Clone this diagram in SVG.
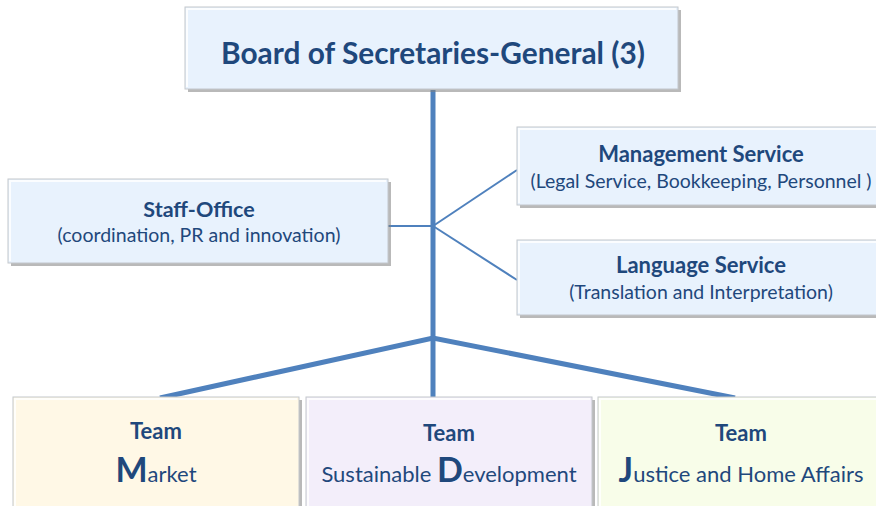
<svg xmlns="http://www.w3.org/2000/svg" width="876" height="506" viewBox="0 0 876 506">
<defs>
<style>
.box{stroke:#c3c7cc;stroke-width:1}
.sh{fill:#7f7f7f;opacity:0.55}
.hl{fill:none;stroke:#ffffff;stroke-width:2;opacity:0.8}
.t{font-family:Lato,"Open Sans","Liberation Sans",sans-serif;fill:#1f487c;text-anchor:middle}
.b{font-weight:bold}
.thick{stroke:#4f81bd;stroke-width:5;fill:none}
.thin{stroke:#4f81bd;stroke-width:2;fill:none}
</style>
</defs>
<rect width="876" height="506" fill="#ffffff"/>
<g id="connectors">
<line class="thick" x1="433" y1="90" x2="433" y2="398"/>
<line class="thin" x1="388" y1="226" x2="433" y2="226"/>
<line class="thin" x1="433" y1="226" x2="517" y2="170"/>
<line class="thin" x1="433" y1="226" x2="517" y2="280"/>
<polyline class="thick" points="160,398 433,338 735,398"/>
</g>
<g id="board">
<rect class="sh" x="188" y="10" width="493" height="82"/>
<rect class="box" x="185" y="7" width="493" height="82" fill="#e8f2fd"/>
<polyline class="hl" points="187,87 187,9 676,9"/>
<text class="t b" x="433" y="64" font-size="30" textLength="424" lengthAdjust="spacingAndGlyphs">Board of Secretaries-General (3)</text>
</g>
<g id="staff">
<rect class="sh" x="11" y="182" width="380" height="84"/>
<rect class="box" x="8" y="179" width="380" height="84" fill="#e8f2fd"/>
<polyline class="hl" points="10,261 10,181 386,181"/>
<text class="t b" x="199" y="217" font-size="21.5">Staff-Office</text>
<text class="t" x="199" y="242" font-size="19.5">(coordination, PR and innovation)</text>
</g>
<g id="management">
<rect class="sh" x="520" y="130" width="360" height="78"/>
<rect class="box" x="517" y="127" width="362" height="78" fill="#e8f2fd"/>
<polyline class="hl" points="519,203 519,129 877,129"/>
<text class="t b" x="701" y="162" font-size="22">Management Service</text>
<text class="t" x="701" y="188" font-size="19.5">(Legal Service, Bookkeeping, Personnel )</text>
</g>
<g id="language">
<rect class="sh" x="520" y="243" width="360" height="75"/>
<rect class="box" x="517" y="240" width="362" height="75" fill="#e8f2fd"/>
<polyline class="hl" points="519,313 519,242 877,242"/>
<text class="t b" x="701" y="273" font-size="22">Language Service</text>
<text class="t" x="701" y="299" font-size="19.5">(Translation and Interpretation)</text>
</g>
<g id="team-market">
<rect class="sh" x="16" y="400" width="286" height="110"/>
<rect class="box" x="13" y="397" width="286" height="112" fill="#fff8e6"/>
<polyline class="hl" points="15,508 15,399 297,399"/>
<text class="t b" x="156" y="439" font-size="22">Team</text>
<text class="t" x="156" y="482" font-size="22"><tspan class="b" font-size="34">M</tspan>arket</text>
</g>
<g id="team-sd">
<rect class="sh" x="309" y="400" width="286" height="110"/>
<rect class="box" x="306" y="397" width="286" height="112" fill="#f3eefa"/>
<polyline class="hl" points="308,508 308,399 590,399"/>
<text class="t b" x="449" y="441" font-size="22">Team</text>
<text class="t" x="449" y="482" font-size="22">Sustainable <tspan class="b" font-size="34">D</tspan>evelopment</text>
</g>
<g id="team-jha">
<rect class="sh" x="601" y="400" width="280" height="110"/>
<rect class="box" x="598" y="397" width="282" height="112" fill="#f8fde9"/>
<polyline class="hl" points="600,508 600,399 878,399"/>
<text class="t b" x="741" y="441" font-size="22">Team</text>
<text class="t" x="741" y="482" font-size="22"><tspan class="b" font-size="34">J</tspan>ustice and Home Affairs</text>
</g>
</svg>
